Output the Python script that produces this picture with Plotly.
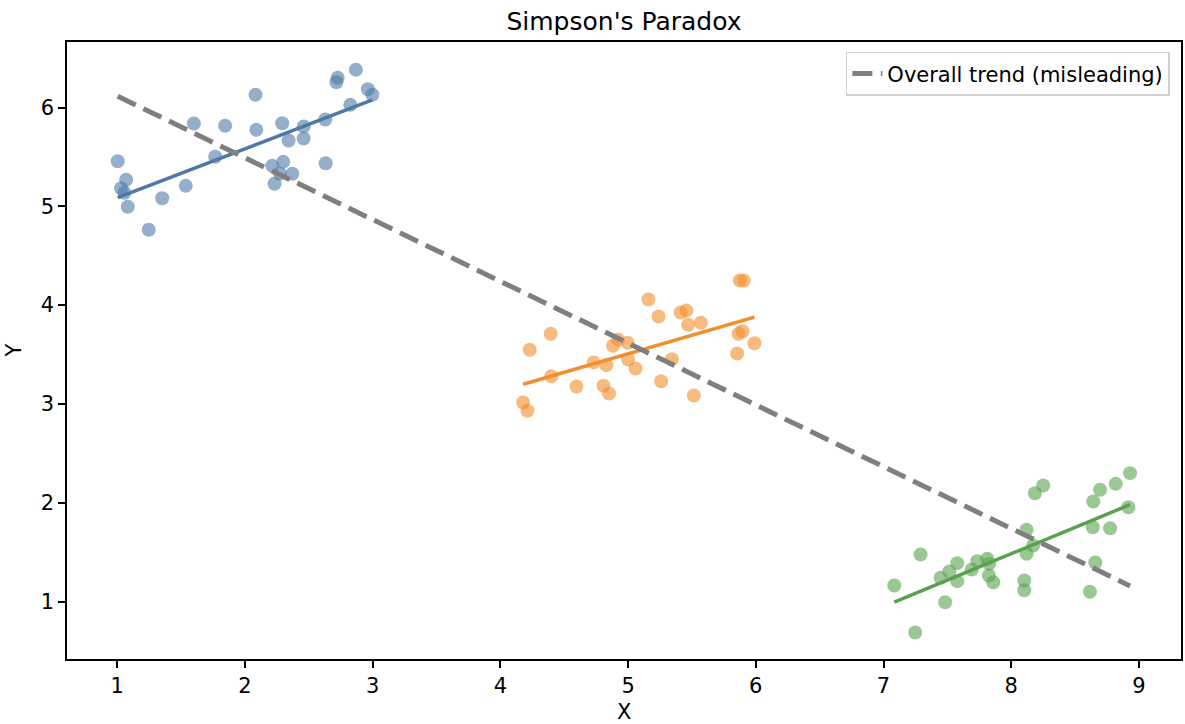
import numpy as np
import plotly.graph_objects as go

# ---- data ----
blue_x = [1.004, 1.070, 1.031, 1.057, 1.083, 1.247, 1.352, 1.537, 1.600, 1.767,
          1.845, 2.083, 2.089, 2.214, 2.232, 2.273, 2.300, 2.292, 2.342, 2.371,
          2.460, 2.460, 2.632, 2.629, 2.716, 2.726, 2.825, 2.869, 2.963, 2.998]
blue_y = [5.456, 5.268, 5.183, 5.137, 4.995, 4.762, 5.082, 5.207, 5.838, 5.501,
          5.815, 6.129, 5.774, 5.410, 5.228, 5.332, 5.450, 5.841, 5.666, 5.329,
          5.808, 5.686, 5.436, 5.879, 6.256, 6.301, 6.027, 6.382, 6.185, 6.129]

orange_x = [4.178, 4.212, 4.230, 4.394, 4.399, 4.596, 4.731, 4.807, 4.830, 4.851,
            4.882, 4.922, 4.998, 5.000, 5.058, 5.159, 5.238, 5.259, 5.343, 5.412,
            5.457, 5.470, 5.515, 5.570, 5.854, 5.865, 5.896, 5.875, 5.906, 5.989]
orange_y = [3.014, 2.930, 3.548, 3.710, 3.280, 3.176, 3.420, 3.183, 3.392, 3.105,
            3.588, 3.649, 3.618, 3.449, 3.358, 4.057, 3.885, 3.230, 3.452, 3.925,
            3.945, 3.800, 3.085, 3.821, 3.510, 3.710, 3.736, 4.249, 4.249, 3.614]

green_x = [7.084, 7.248, 7.290, 7.447, 7.483, 7.515, 7.577, 7.577, 7.690, 7.734,
           7.811, 7.827, 7.825, 7.859, 8.102, 8.102, 8.120, 8.120, 8.172, 8.185,
           8.250, 8.616, 8.642, 8.638, 8.658, 8.695, 8.774, 8.818, 8.917, 8.930]
green_y = [1.162, 0.686, 1.476, 1.240, 0.993, 1.304, 1.388, 1.206, 1.324, 1.408,
           1.432, 1.382, 1.263, 1.195, 1.213, 1.114, 1.726, 1.483, 1.567, 2.096,
           2.174, 1.098, 2.012, 1.752, 1.395, 2.131, 1.742, 2.191, 1.954, 2.299]

x_ticks = [1, 2, 3, 4, 5, 6, 7, 8, 9]
y_ticks = [1, 2, 3, 4, 5, 6]

groups = [
    (blue_x, blue_y, "#4e79a7"),
    (orange_x, orange_y, "#f28e2b"),
    (green_x, green_y, "#59a14f"),
]

fig = go.Figure()

for gx, gy, col in groups:
    fig.add_trace(go.Scatter(
        x=gx, y=gy, mode="markers", showlegend=False,
        marker=dict(color=col, size=14, opacity=0.6, line=dict(width=0)),
    ))

for gx, gy, col in groups:
    a = np.array(gx); b = np.array(gy)
    m, c = np.polyfit(a, b, 1)
    xs = np.array([a.min(), a.max()])
    fig.add_trace(go.Scatter(
        x=xs, y=m * xs + c, mode="lines", showlegend=False,
        line=dict(color=col, width=3.5),
    ))

all_x = np.array(blue_x + orange_x + green_x)
all_y = np.array(blue_y + orange_y + green_y)
m, c = np.polyfit(all_x, all_y, 1)
xs = np.array([all_x.min(), all_x.max()])
fig.add_trace(go.Scatter(
    x=xs, y=m * xs + c, mode="lines", name="Overall trend (misleading)",
    line=dict(color="#7f7f7f", width=5, dash="20px,8.5px"),
))

font_family = "DejaVu Sans, Liberation Sans, sans-serif"
axis_common = dict(showgrid=False, zeroline=False, showline=True, mirror=True,
                   linecolor="black", linewidth=1.6, ticks="outside", ticklen=7,
                   tickwidth=1.6, tickcolor="black", automargin=False,
                   tickfont=dict(size=21, family=font_family, color="black"))

fig.update_layout(
    width=1185, height=724,
    paper_bgcolor="white", plot_bgcolor="white",
    margin=dict(l=67, r=4, t=42, b=65),
    title=dict(text="Simpson's Paradox", x=(67 + 1181) / 2 / 1185, xanchor="center",
               y=1 - 21 / 724, yanchor="middle",
               font=dict(family=font_family, size=25, color="black")),
    font=dict(family=font_family, size=21, color="black"),
    showlegend=True,
    legend=dict(x=0.990, y=0.984, xanchor="right", yanchor="top",
                bgcolor="rgba(255,255,255,0.8)", bordercolor="#d0d0d0",
                borderwidth=1.5, font=dict(size=21, family=font_family)),
    xaxis=dict(range=[0.607, 9.329], tickvals=x_ticks, **axis_common),
    yaxis=dict(range=[0.418, 6.663], tickvals=y_ticks, **axis_common),
    annotations=[
        dict(text="X", xref="paper", yref="paper", x=0.5, y=-(712 - 659) / 617,
             xanchor="center", yanchor="middle", showarrow=False,
             font=dict(size=21, family=font_family, color="black")),
        dict(text="Y", xref="paper", yref="paper", x=-(67.5 - 15) / 1113.5,
             y=(659 - 350) / 617, xanchor="center", yanchor="middle",
             textangle=-90, showarrow=False,
             font=dict(size=21, family=font_family, color="black")),
    ],
)

fig.write_html("out.html", config={"displayModeBar": False},
               post_script="document.body.style.margin='0';")
